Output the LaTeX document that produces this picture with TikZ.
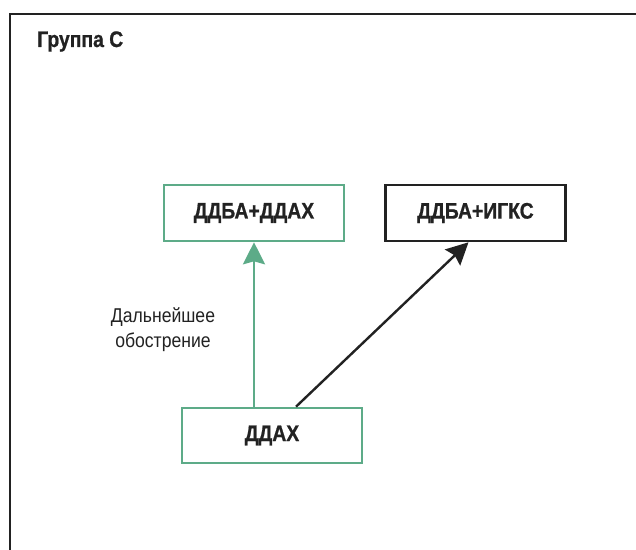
\documentclass[tikz,border=0pt]{standalone}
\usepackage{fontspec}
\setmainfont[FakeStretch=0.88, BoldFeatures={FakeStretch=0.86,FakeBold=0.8}]{Liberation Sans}
\usetikzlibrary{arrows.meta,calc}
\definecolor{grn}{HTML}{5DAB88}
\definecolor{ink}{HTML}{222222}
\tikzset{
  bigbold/.style={font=\fontsize{22.5bp}{25bp}\selectfont\bfseries},
  box/.style={draw, line width=2.6bp, minimum width=180bp, minimum height=56bp, inner sep=0pt, text=ink, bigbold},
  greenbox/.style={box, draw=grn},
  blackbox/.style={box, draw=ink},
  arr/.style={line width=2.4bp, -{Stealth[length=22bp, width=22bp, inset=3bp]}},
}
\begin{document}
\begin{tikzpicture}[x=1bp,y=-1bp]
\useasboundingbox (0,0) rectangle (636,550);
\fill[white] (0,0) rectangle (636,550);
\begin{scope}
\clip (0,0) rectangle (636,550);
\draw[ink, line width=2.6bp] (10,14) rectangle (660,580);
\end{scope}
\node[anchor=base west, text=ink, bigbold, inner sep=0pt] (title) at (37,47) {Группа С};
\node[greenbox] (a) at (254,213) {ДДБА+ДДАХ};
\node[blackbox] (b) at (475.5,213) {ДДБА+ИГКС};
\node[greenbox, minimum height=55bp] (c) at (272,435.5) {ДДАХ};
\node[align=center, text=ink, inner sep=0pt, font=\fontsize{20bp}{25bp}\selectfont] (lbl) at (163,330) {Дальнейшее\\обострение};
\draw[arr, grn] (c.north -| a.south) -- (a.south);
\draw[arr, ink] ([xshift=24bp]c.north) -- ([xshift=-7bp]b.south);
\end{tikzpicture}
\end{document}
